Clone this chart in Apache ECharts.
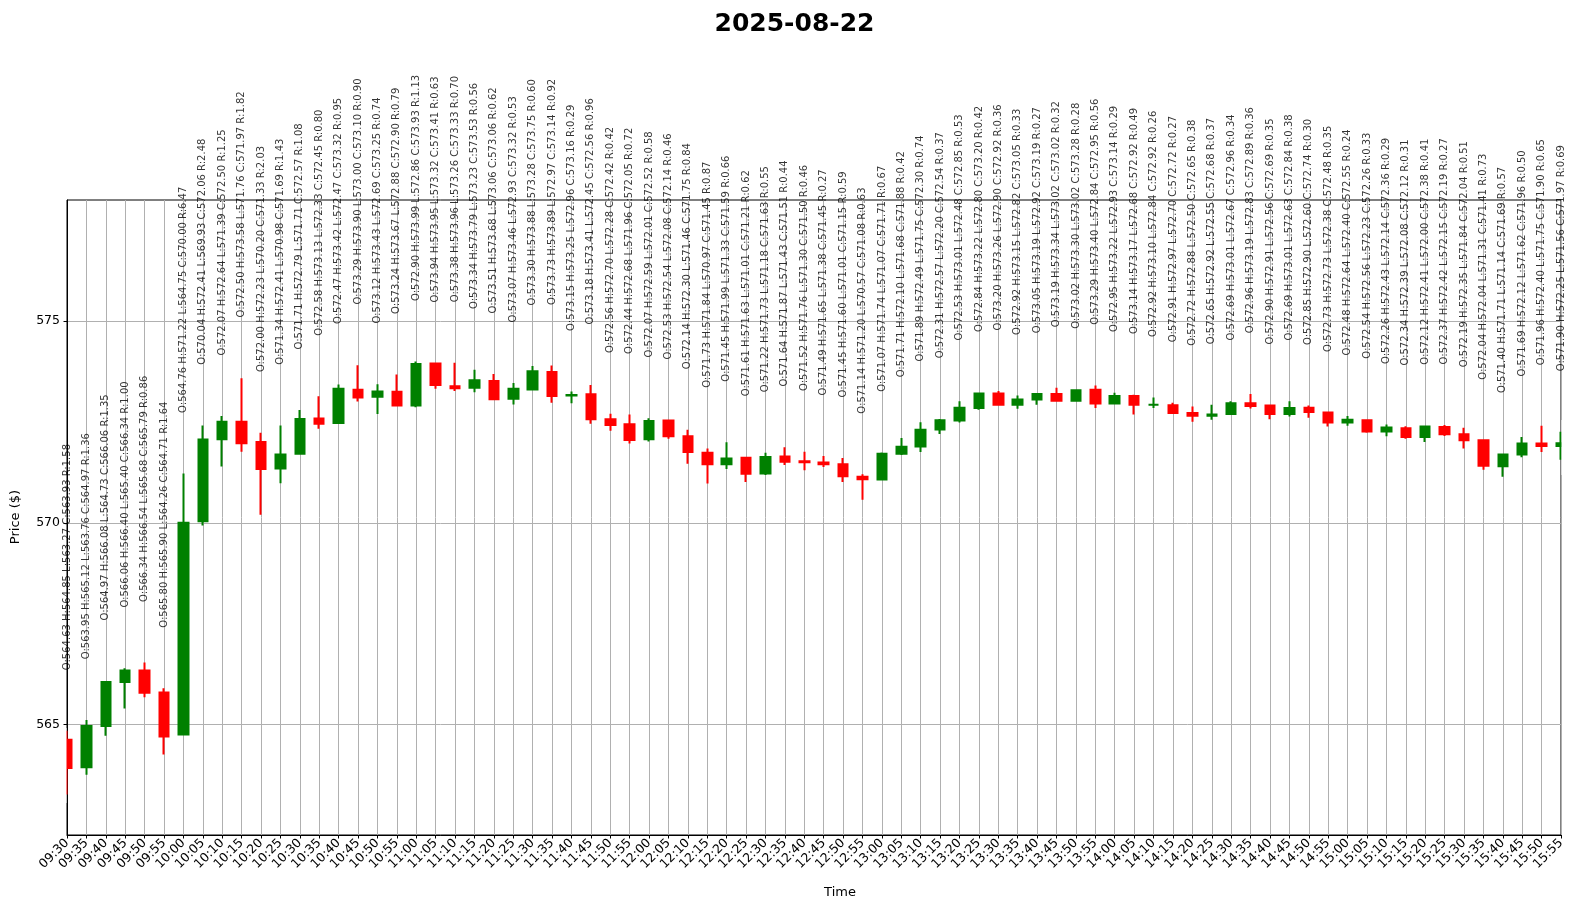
<!DOCTYPE html>
<html><head><meta charset="utf-8">
<script src="https://cdn.jsdelivr.net/npm/echarts@6/dist/echarts.min.js"></script>
<style>html,body{margin:0;padding:0;background:#fff}#c{width:1589px;height:911px}</style>
</head><body><div id="c"></div>
<script>
const chartTitle = '2025-08-22';
const times = ['09:30','09:35','09:40','09:45','09:50','09:55','10:00','10:05','10:10','10:15','10:20','10:25','10:30','10:35','10:40','10:45','10:50','10:55','11:00','11:05','11:10','11:15','11:20','11:25','11:30','11:35','11:40','11:45','11:50','11:55','12:00','12:05','12:10','12:15','12:20','12:25','12:30','12:35','12:40','12:45','12:50','12:55','13:00','13:05','13:10','13:15','13:20','13:25','13:30','13:35','13:40','13:45','13:50','13:55','14:00','14:05','14:10','14:15','14:20','14:25','14:30','14:35','14:40','14:45','14:50','14:55','15:00','15:05','15:10','15:15','15:20','15:25','15:30','15:35','15:40','15:45','15:50','15:55'];
const opens = [564.63,563.95,564.97,566.06,566.34,565.80,564.76,570.04,572.07,572.50,572.00,571.34,571.71,572.58,572.47,573.29,573.12,573.24,572.90,573.94,573.38,573.34,573.51,573.07,573.30,573.73,573.15,573.18,572.56,572.44,572.07,572.53,572.14,571.73,571.45,571.61,571.22,571.64,571.52,571.49,571.45,571.14,571.07,571.71,571.89,572.31,572.53,572.84,573.20,572.92,573.05,573.19,573.02,573.29,572.95,573.14,572.92,572.91,572.72,572.65,572.69,572.96,572.90,572.69,572.85,572.73,572.48,572.54,572.26,572.34,572.12,572.37,572.19,572.04,571.40,571.69,571.96,571.90];
const highs = [564.85,565.12,566.08,566.40,566.54,565.90,571.22,572.41,572.64,573.58,572.23,572.41,572.79,573.13,573.42,573.90,573.43,573.67,573.99,573.95,573.96,573.79,573.68,573.46,573.88,573.89,573.25,573.41,572.70,572.68,572.59,572.54,572.30,571.84,571.99,571.63,571.73,571.87,571.76,571.65,571.60,571.20,571.74,572.10,572.49,572.57,573.01,573.22,573.26,573.15,573.19,573.34,573.30,573.40,573.22,573.17,573.10,572.97,572.88,572.92,573.01,573.19,572.91,573.01,572.90,572.73,572.64,572.56,572.43,572.39,572.41,572.42,572.35,572.04,571.71,572.12,572.40,572.25];
const lows = [563.27,563.76,564.73,565.40,565.68,564.26,564.75,569.93,571.39,571.76,570.20,570.98,571.71,572.33,572.47,573.00,572.69,572.88,572.86,573.32,573.26,573.23,573.06,572.93,573.28,572.97,572.96,572.45,572.28,571.96,572.01,572.08,571.46,570.97,571.33,571.01,571.18,571.43,571.30,571.38,571.01,570.57,571.07,571.68,571.75,572.20,572.48,572.80,572.90,572.82,572.92,573.02,573.02,572.84,572.93,572.68,572.84,572.70,572.50,572.55,572.67,572.83,572.56,572.63,572.60,572.38,572.40,572.23,572.14,572.08,572.00,572.15,571.84,571.31,571.14,571.62,571.75,571.56];
const closes = [563.93,564.97,566.06,566.34,565.79,564.71,570.00,572.06,572.50,571.97,571.33,571.69,572.57,572.45,573.32,573.10,573.25,572.90,573.93,573.41,573.33,573.53,573.06,573.32,573.75,573.14,573.16,572.56,572.42,572.05,572.52,572.14,571.75,571.45,571.59,571.21,571.63,571.51,571.50,571.45,571.15,571.08,571.71,571.88,572.30,572.54,572.85,573.20,572.92,573.05,573.19,573.02,573.28,572.95,573.14,572.92,572.92,572.72,572.65,572.68,572.96,572.89,572.69,572.84,572.74,572.48,572.55,572.26,572.36,572.12,572.38,572.19,572.04,571.41,571.69,571.96,571.90,571.97];
const ranges = [1.58,1.36,1.35,1.00,0.86,1.64,6.47,2.48,1.25,1.82,2.03,1.43,1.08,0.80,0.95,0.90,0.74,0.79,1.13,0.63,0.70,0.56,0.62,0.53,0.60,0.92,0.29,0.96,0.42,0.72,0.58,0.46,0.84,0.87,0.66,0.62,0.55,0.44,0.46,0.27,0.59,0.63,0.67,0.42,0.74,0.37,0.53,0.42,0.36,0.33,0.27,0.32,0.28,0.56,0.29,0.49,0.26,0.27,0.38,0.37,0.34,0.36,0.35,0.38,0.30,0.35,0.24,0.33,0.29,0.31,0.41,0.27,0.51,0.73,0.57,0.50,0.65,0.69];
const yTicks = [565, 570, 575];
const yMin = 562.27, yMax = 577.99;
const labelOffset = 1.5;

const FONT = 'DejaVu Sans';
const candleData = times.map((t, i) => [opens[i], closes[i], lows[i], highs[i]]);
const labelData = times.map((t, i) => [i, highs[i] + labelOffset]);
const fmt = v => v.toFixed(2);

const chart = echarts.init(document.getElementById('c'), null, {renderer: 'canvas'});
chart.setOption({
  animation: false,
  backgroundColor: '#fff',
  title: {
    text: chartTitle, left: 'center', top: 7,
    textStyle: {fontSize: 25, fontWeight: 'bold', color: '#000', fontFamily: FONT}
  },
  grid: {left: 67, right: 28, top: 200, bottom: 76, show: true, borderColor: '#000', borderWidth: 1, outerBoundsMode: 'none'},
  xAxis: {
    type: 'category', data: times, boundaryGap: false,
    axisLine: {show: true, lineStyle: {color: '#000', width: 1}},
    axisTick: {show: true, interval: 0, length: 3.5, lineStyle: {color: '#000'}},
    axisLabel: {interval: 0, rotate: 45, fontSize: 12.5, color: '#000', fontFamily: FONT, margin: 6},
    splitLine: {show: true, interval: 0, lineStyle: {color: '#b0b0b0', width: 1}}
  },
  yAxis: {
    type: 'value', min: yMin, max: yMax, scale: true,
    axisLine: {show: true, lineStyle: {color: '#000', width: 1}},
    axisTick: {show: true, length: 3.5, customValues: yTicks, lineStyle: {color: '#000'}},
    axisLabel: {customValues: yTicks, fontSize: 12.5, color: '#000', fontFamily: FONT, margin: 7},
    splitLine: {show: true, lineStyle: {color: '#b0b0b0', width: 1}}
  },
  graphic: [
    {type: 'text', x: 16, y: 517, rotation: Math.PI / 2,
     style: {text: 'Price ($)', fontSize: 13, fontFamily: FONT, fill: '#000', align: 'center', verticalAlign: 'middle'}},
    {type: 'text', x: 840, y: 893,
     style: {text: 'Time', fontSize: 13, fontFamily: FONT, fill: '#000', align: 'center', verticalAlign: 'middle'}},
    {type: 'rect', z: 100, shape: {x: 56, y: 728, width: 10.5, height: 75}, style: {fill: '#fff'}},
    {type: 'rect', z: 100, shape: {x: 1561.5, y: 420, width: 20, height: 55}, style: {fill: '#fff'}}
  ],
  series: [
    {
      type: 'candlestick', data: candleData, barWidth: 10, clip: true,
      itemStyle: {color: '#008000', color0: '#ff0000', borderColor: '#008000', borderColor0: '#ff0000', borderWidth: 2}
    },
    {
      type: 'scatter', data: labelData, symbol: 'circle', symbolSize: 1, clip: false,
      itemStyle: {color: 'rgba(0,0,0,0)'},
      label: {
        show: true, position: 'inside', rotate: 90, align: 'left', verticalAlign: 'middle',
        color: '#000', fontSize: 10, fontFamily: FONT, textBorderWidth: 0,
        formatter: p => {
          const i = p.dataIndex;
          return 'O:' + fmt(opens[i]) + ' H:' + fmt(highs[i]) + ' L:' + fmt(lows[i]) + ' C:' + fmt(closes[i]) + ' R:' + fmt(ranges[i]);
        }
      },
      z: 5
    }
  ]
});
</script>
</body></html>
